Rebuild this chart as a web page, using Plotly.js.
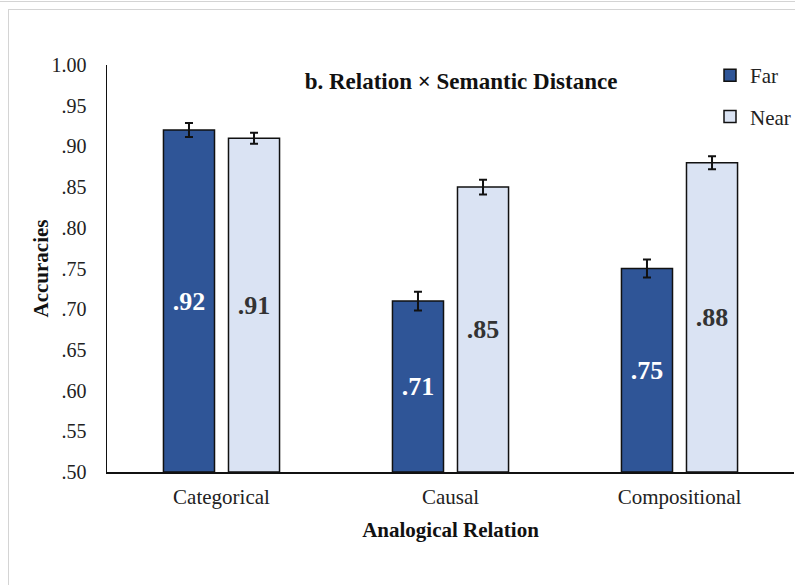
<!DOCTYPE html>
<html>
<head>
<meta charset="utf-8">
<script src="https://cdn.plot.ly/plotly-3.0.1.min.js"></script>
<style>
  html, body { margin: 0; padding: 0; background: #fff; }
  #wrap { position: relative; width: 795px; height: 585px; overflow: hidden; }
  #chart { position: absolute; left: 0; top: 0; width: 795px; height: 585px; }
  /* thin page frame around the figure */
  .rule-top { position: absolute; left: 0; top: 0; width: 795px; height: 1px; border-bottom: 1px solid #d4d4d4; pointer-events: none; }
  .frame { position: absolute; left: 8px; top: 9px; width: 800px; height: 600px;
           border-left: 1px solid #d4d4d4; border-top: 1px solid #d4d4d4; pointer-events: none; }
</style>
</head>
<body>
<div id="wrap">
  <div id="chart"></div>
  <div class="rule-top"></div>
  <div class="frame"></div>
</div>
<script>
// Mean accuracies by analogical relation and semantic distance
const relations = ['Categorical', 'Causal', 'Compositional'];
const farAcc  = [0.92, 0.71, 0.75];
const nearAcc = [0.91, 0.85, 0.88];
const farErr  = [0.0086, 0.0115, 0.011];
const nearErr = [0.0068, 0.009, 0.008];
const yTickVals = [0.50, 0.55, 0.60, 0.65, 0.70, 0.75, 0.80, 0.85, 0.90, 0.95, 1.00];
const yTickText = ['.50', '.55', '.60', '.65', '.70', '.75', '.80', '.85', '.90', '.95', '1.00'];
const axisFloor = 0.50;   // bars start at the bottom of the value axis

const serif = '"Liberation Serif", "Times New Roman", serif';
// ".92" style labels (no leading zero)
const fmt = v => v.toFixed(2).replace(/^0/, '');

function barTrace(name, vals, errs, fill, labelColor) {
  return {
    type: 'bar', name: name, x: relations,
    base: axisFloor, y: vals.map(v => v - axisFloor),
    legendgroup: name,
    marker: { color: fill, line: { color: '#111', width: 1.5 } },
    error_y: { type: 'data', array: errs, visible: true, color: '#111', thickness: 2, width: 4 },
    text: vals.map(fmt), textposition: 'inside', insidetextanchor: 'middle',
    textangle: 0, constraintext: 'none',
    textfont: { family: serif, size: 26, color: labelColor, weight: 'bold' },
    hoverinfo: 'skip'
  };
}

const far  = barTrace('Far',  farAcc,  farErr,  '#2F5597', '#ffffff');
const near = barTrace('Near', nearAcc, nearErr, '#DAE3F3', '#333333');

const layout = {
  width: 795, height: 585,
  margin: { l: 107, r: 1, t: 65, b: 113, pad: 0, autoexpand: false },
  paper_bgcolor: 'rgba(0,0,0,0)', plot_bgcolor: 'rgba(0,0,0,0)',
  font: { family: serif, color: '#222' },
  barmode: 'group', bargap: 0.432, bargroupgap: 0.215,
  title: {
    text: '<b>b. Relation × Semantic Distance</b>',
    font: { family: serif, size: 23, color: '#111' },
    xref: 'container', yref: 'container', x: 461 / 795, y: 1 - 81 / 585,
    xanchor: 'center', yanchor: 'middle'
  },
  showlegend: true,
  legend: {
    x: 710 / 795, y: 1 - 55 / 585, xref: 'container', yref: 'container',
    xanchor: 'left', yanchor: 'top',
    font: { family: serif, size: 21, color: '#222' },
    tracegroupgap: 11, itemwidth: 30, bgcolor: 'rgba(0,0,0,0)'
  },
  xaxis: {
    type: 'category', showline: true, linecolor: '#111', linewidth: 1.5,
    ticks: '', showgrid: false, zeroline: false,
    tickfont: { family: serif, size: 21, color: '#222' },
    ticklabelstandoff: 5,
    title: { text: '<b>Analogical Relation</b>', font: { family: serif, size: 21, color: '#111' }, standoff: 14 }
  },
  yaxis: {
    range: [axisFloor, 1.0], showline: true, linecolor: '#111', linewidth: 1.5,
    ticks: '', showgrid: false, zeroline: false,
    tickvals: yTickVals, ticktext: yTickText,
    tickfont: { family: serif, size: 20, color: '#222' },
    ticklabelstandoff: 15
  },
  annotations: [{
    text: '<b>Accuracies</b>', textangle: -90, showarrow: false,
    xref: 'paper', yref: 'paper', x: (40 - 107) / 687, y: 0.5,
    xanchor: 'center', yanchor: 'middle',
    font: { family: serif, size: 21, color: '#111' }
  }]
};

Plotly.newPlot('chart', [far, near], layout, { staticPlot: true, displayModeBar: false });
</script>
</body>
</html>
